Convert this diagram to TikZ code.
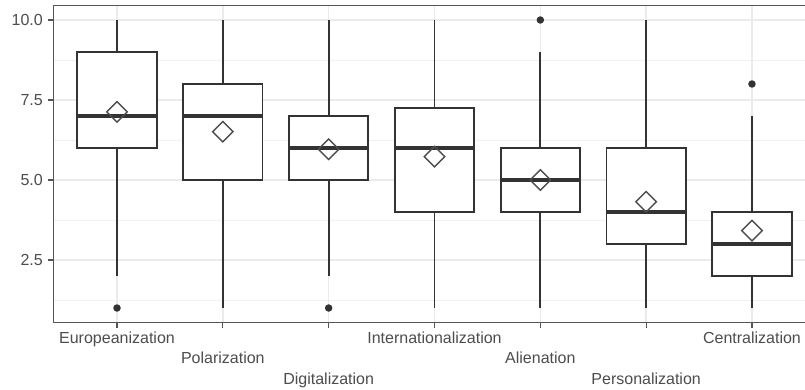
\documentclass[tikz,border=0pt]{standalone}
\usepackage{fontspec}
\setmainfont{Liberation Sans}
\usetikzlibrary{shapes.geometric}
\definecolor{gridc}{HTML}{EBEBEB}
\definecolor{axtext}{HTML}{4D4D4D}
\definecolor{boxc}{HTML}{333333}
\definecolor{panelc}{HTML}{555555}
\tikzset{
  gridmajor/.style={draw=gridc, line width=1.6pt},
  gridminor/.style={draw=gridc!70!white, line width=0.9pt},
  panelframe/.style={draw=panelc, line width=1.3pt},
  axtick/.style={draw=panelc, line width=1.3pt},
  boxline/.style={draw=boxc, line width=1.9pt, fill=white},
  whisk/.style={draw=boxc, line width=1.9pt},
  medline/.style={draw=boxc, line width=3.6pt, line cap=butt},
  meanmark/.style={shape=diamond, aspect=1, draw=axtext, line width=1.4pt, minimum width=21pt, minimum height=21pt, inner sep=0pt},
  outlier/.style={shape=circle, fill=boxc, draw=none, minimum size=7.5pt, inner sep=0pt},
  ylab/.style={text=axtext, font=\fontsize{16}{19}\selectfont, anchor=east, inner sep=0pt},
  xlab/.style={text=axtext, font=\fontsize{16}{19}\selectfont, anchor=base, inner sep=0pt}
}
\begin{document}
\begin{tikzpicture}[x=1pt,y=1pt]
\useasboundingbox (0,0) rectangle (805,389);
\clip (0,0) rectangle (805,389);
\fill[white] (0,0) rectangle (805,389);
\begin{scope}[x=105.83pt,y=32pt,shift={(11.17pt,49pt)}]
  % grid
  \foreach \v in {1.25,3.75,6.25,8.75} \draw[gridminor] (0.4,\v) -- (7.7,\v);
  \foreach \v in {2.5,5,7.5,10} \draw[gridmajor] (0.4,\v) -- (7.7,\v);
  \foreach \i in {1,...,7} \draw[gridmajor] (\i,0.55) -- (\i,10.45);
  % boxes
  \foreach \i/\lo/\qa/\md/\qc/\hi/\mn in {
      1/2/6/7/9/10/7.13,
      2/1/5/7/8/10/6.51,
      3/2/5/6/7/10/5.96,
      4/1/4/6/7.25/10/5.73,
      5/1/4/5/6/9/5.0,
      6/1/3/4/6/10/4.32,
      7/1/2/3/4/7/3.42} {
    \coordinate (lo\i) at (\i,\lo);
    \coordinate (hi\i) at (\i,\hi);
    \coordinate (qa\i) at (\i,\qa);
    \coordinate (qc\i) at (\i,\qc);
    \draw[whisk] (lo\i) -- (qa\i);
    \draw[whisk] (qc\i) -- (hi\i);
    \draw[boxline] (\i-0.375,\qa) rectangle (\i+0.375,\qc);
    \draw[medline] (\i-0.375,\md) -- (\i+0.375,\md);
    \node[meanmark] (mean\i) at (\i,\mn) {};
  }
  % outliers
  \node[outlier] (out1) at (1,1) {};
  \node[outlier] (out3) at (3,1) {};
  \node[outlier] (out5) at (5,10) {};
  \node[outlier] (out7) at (7,8) {};
  % panel border (right side lies outside the picture)
  \draw[panelframe] (7.7,10.45) -- (0.4,10.45) -- (0.4,0.55) -- (7.7,0.55);
  % y axis
  \foreach \v/\t/\n in {2.5/2.5/a,5/5.0/b,7.5/7.5/c,10/10.0/d} {
    \draw[axtick] (0.4,\v) -- ++(-5.5pt,0);
    \node[ylab] (ylab\n) at ([xshift=-10.5pt]0.4,\v) {\t};
  }
  % x axis
  \foreach \i/\t/\s in {
      1/Europeanization/-20.6pt,
      2/Polarization/-41.2pt,
      3/Digitalization/-61.8pt,
      4/Internationalization/-20.6pt,
      5/Alienation/-41.2pt,
      6/Personalization/-61.8pt,
      7/Centralization/-20.6pt} {
    \draw[axtick] (\i,0.55) -- ++(0,-5.5pt);
    \node[xlab] (xlab\i) at ([yshift=\s]\i,0.55) {\t};
  }
\end{scope}
\end{tikzpicture}
\end{document}
